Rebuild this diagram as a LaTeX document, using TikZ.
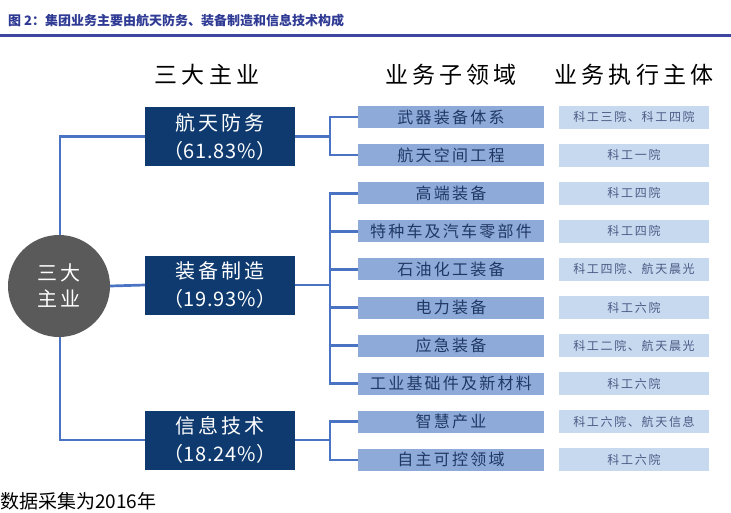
\documentclass[tikz,border=0pt]{standalone}
\usepackage{fontspec}
\setmainfont{Noto Sans CJK SC}
\newfontfamily\cjk{Noto Sans CJK SC}
\newfontfamily\cjkhead[LetterSpace=18]{Noto Sans CJK SC}
\newfontfamily\cjkbox[LetterSpace=16]{Noto Sans CJK SC}
\newfontfamily\cjkpct[LetterSpace=4]{Noto Sans CJK SC}
\newfontfamily\cjksub[LetterSpace=14]{Noto Sans CJK SC}
\newfontfamily\cjkact[LetterSpace=14]{Noto Sans CJK SC}
\definecolor{navy}{HTML}{0E3A6F}
\definecolor{linkblue}{HTML}{4A74C3}
\definecolor{subblue}{HTML}{8EAAD8}
\definecolor{actblue}{HTML}{C7D9EF}
\definecolor{subtext}{HTML}{203864}
\definecolor{acttext}{HTML}{4A5B85}
\definecolor{circgray}{HTML}{5A5A5A}
\definecolor{titleblue}{HTML}{2F3A94}
\definecolor{ruleblue}{HTML}{3F46A0}
\begin{document}
\begin{tikzpicture}[x=1pt,y=-1pt,
  conn/.style={draw=linkblue,line width=2.7pt},
  mainbox/.style={fill=navy,text=white,minimum width=150pt,minimum height=59pt,inner sep=0pt,align=center,font=\cjkbox\fontsize{20}{28}\selectfont},
  subbox/.style={fill=subblue,text=subtext,minimum width=186pt,minimum height=22pt,inner sep=0pt,font=\cjksub\fontsize{16}{18}\selectfont},
  actbox/.style={fill=actblue,text=acttext,minimum width=150pt,minimum height=23pt,inner sep=0pt,font=\cjkact\fontsize{12}{14}\selectfont},
  head/.style={inner sep=0pt,font=\cjkhead\fontsize{23}{26}\selectfont}
]
\useasboundingbox (0,0) rectangle (731,512);
\clip (0,0) rectangle (731,512);
\fill[white] (0,0) rectangle (731,512);
% title
\node[anchor=west,inner sep=0pt,text=titleblue,font=\cjk\bfseries\fontsize{13}{15}\selectfont] (title) at (8,21) {图 2：集团业务主要由航天防务、装备制造和信息技术构成};
\draw[ruleblue,line width=3pt] (0,35) coordinate (r0) -- (731,35) coordinate (r1);
% headers
\node[head] (h1) at (207,75) {三大主业};
\node[head] (h2) at (451,75) {业务子领域};
\node[head] (h3) at (634,75) {业务执行主体};
% sub and actor boxes
\foreach \i/\s/\a in {0/武器装备体系/科工三院、科工四院,1/航天空间工程/科工一院,2/高端装备/科工四院,3/特种车及汽车零部件/科工四院,4/石油化工装备/科工四院、航天晨光,5/电力装备/科工六院,6/应急装备/科工二院、航天晨光,7/工业基础件及新材料/科工六院,8/智慧产业/科工六院、航天信息,9/自主可控领域/科工六院}{
  \node[subbox] (s\i) at (451,{117+38.1*\i}) {\s};
  \node[actbox] (a\i) at (634,{117+38.1*\i}) {\a};
}
% main boxes
\node[mainbox] (m1) at (220,136.5) {航天防务\\{\cjkpct（61.83\%）}};
\node[mainbox] (m2) at (220,285) {装备制造\\{\cjkpct（19.93\%）}};
\node[mainbox] (m3) at (220,440) {信息技术\\{\cjkpct（18.24\%）}};
% connectors
\coordinate (trunk) at (60,0);
\coordinate (br) at (330,0);
\draw[conn] (m1.west) -- (m1.west -| trunk) -- (m3.west -| trunk) -- (m3.west);
\draw[conn] (m1.east) -- (m1.east -| br);
\draw[conn] (m2.east) -- (m2.east -| br);
\draw[conn] (m3.east) -- (m3.east -| br);
\draw[conn] (s0.west) -- (s0.west -| br) -- (s1.west -| br) -- (s1.west);
\draw[conn] (s2.west) -- (s2.west -| br) -- (s7.west -| br) -- (s7.west);
\foreach \i in {3,4,5,6}{\draw[conn] (s\i.west -| br) -- (s\i.west);}
\draw[conn] (s8.west) -- (s8.west -| br) -- (s9.west -| br) -- (s9.west);
% circle
\node[circle,fill=circgray,minimum size=102pt,inner sep=0pt,text=white,align=center,font=\cjkbox\fontsize{20}{26}\selectfont] (c) at (59,286) {三大\\主业};
\draw[conn] (c.east) -- (m2.west);
% note
\node[anchor=base west,inner sep=0pt,font=\cjk\fontsize{19}{19}\selectfont] (note) at (0,508) {数据采集为2016年};
\end{tikzpicture}
\end{document}
